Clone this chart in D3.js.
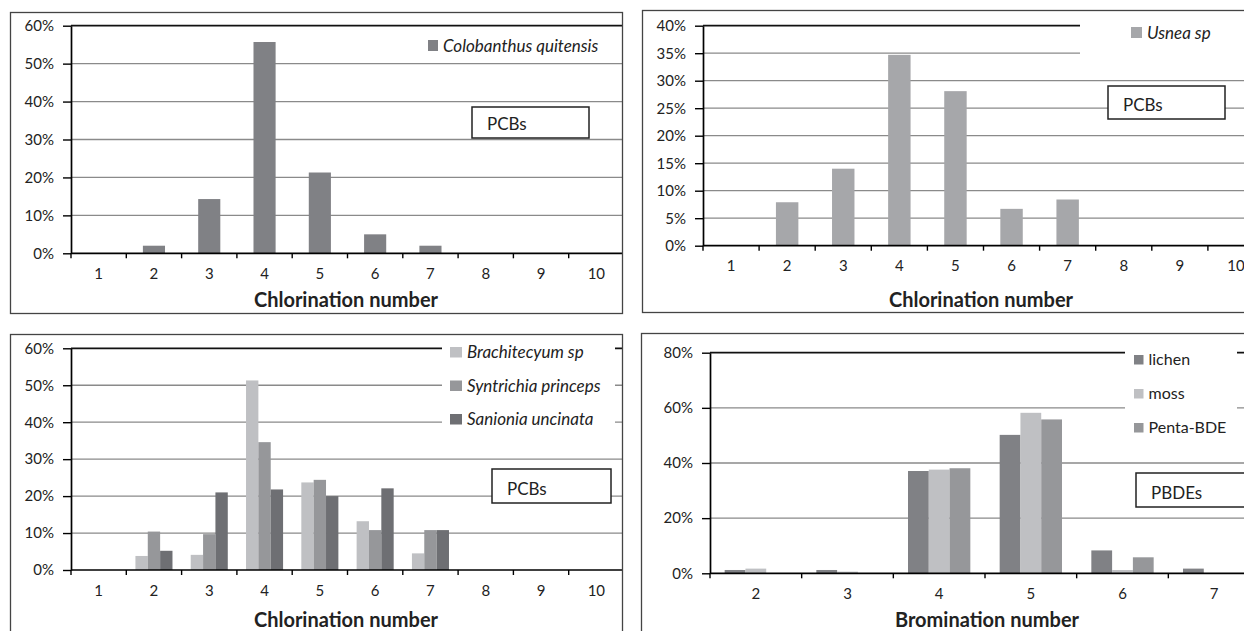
<!DOCTYPE html>
<html>
<head>
<meta charset="utf-8">
<script src="https://cdn.jsdelivr.net/npm/d3@7/dist/d3.min.js"></script>
<style>
  body { margin: 0; background: #fff; }
  svg { display: block; font-family: Lato, "Open Sans", sans-serif; }
</style>
</head>
<body>
<svg width="1244" height="631"></svg>
<script>
// chlorination / bromination categories
const chlorCats = ["1", "2", "3", "4", "5", "6", "7", "8", "9", "10"];
const bromCats = ["2", "3", "4", "5", "6", "7"];

// percentages
const colobanthus = [0, 2.0, 14.3, 55.7, 21.3, 5.0, 2.0, 0, 0, 0];
const usnea = [0, 7.9, 14.0, 34.7, 28.1, 6.7, 8.4, 0, 0, 0];
const brachitecyum = [0, 3.8, 4.1, 51.3, 23.7, 13.2, 4.5, 0, 0, 0];
const syntrichia = [0, 10.4, 9.7, 34.6, 24.4, 10.8, 10.8, 0, 0, 0];
const sanionia = [0, 5.2, 21.0, 21.8, 20.0, 22.1, 10.8, 0, 0, 0];
const lichen = [1.2, 1.2, 37.1, 50.2, 8.3, 1.7];
const moss = [1.7, 0.6, 37.6, 58.2, 1.2, 0];
const pentaBDE = [0, 0, 38.1, 55.8, 5.8, 0];

// y tick values
const ticks60 = [0, 10, 20, 30, 40, 50, 60];
const ticks40 = [0, 5, 10, 15, 20, 25, 30, 35, 40];
const ticks80 = [0, 20, 40, 60, 80];

const svg = d3.select("svg");

const drawPanel = (p, idx) => {
  const clipId = "clip" + idx;
  svg.append("clipPath").attr("id", clipId)
    .append("rect")
    .attr("x", p.frame[0]).attr("y", p.frame[1])
    .attr("width", p.frame[2] - p.frame[0]).attr("height", p.frame[3] - p.frame[1]);

  const g = svg.append("g").attr("clip-path", `url(#${clipId})`);

  const x = d3.scaleBand().domain(p.cats).range([p.x0, p.x1]);
  const ymax = p.ticks[p.ticks.length - 1];
  const y = d3.scaleLinear().domain([0, ymax]).range([p.yBot, p.yTop]);

  // gridlines
  g.selectAll(".grid")
    .data(p.ticks.filter((t) => t > 0))
    .enter()
    .append("line")
    .attr("x1", p.x0).attr("x2", p.x1 + 20)
    .attr("y1", (d) => y(d)).attr("y2", (d) => y(d))
    .attr("stroke", (d) => (d === ymax ? "#111" : "#8a8a8a"))
    .attr("stroke-width", (d) => (d === ymax ? 1.7 : 1.3));

  // bars
  const bw = x.bandwidth();
  const xs = d3.scaleBand()
    .domain(p.series.map((s) => s.name))
    .range([bw * p.gap, bw * (1 - p.gap)]);
  p.series.forEach((s) => {
    g.selectAll(null)
      .data(s.values)
      .enter()
      .append("rect")
      .attr("x", (d, i) => x(p.cats[i]) + xs(s.name))
      .attr("width", xs.bandwidth())
      .attr("y", (d) => y(d))
      .attr("height", (d) => p.yBot - y(d))
      .attr("fill", s.color);
  });

  // legend
  const L = p.legend;
  if (L.box) {
    g.append("rect")
      .attr("x", L.box[0]).attr("y", L.box[1])
      .attr("width", L.box[2]).attr("height", L.box[3])
      .attr("fill", "#fff");
  }
  p.series.forEach((s, i) => {
    g.append("rect")
      .attr("x", L.x).attr("y", L.y + i * L.step)
      .attr("width", L.sw).attr("height", L.sh)
      .attr("fill", s.color);
    g.append("text")
      .attr("x", L.x + L.sw + 5)
      .attr("y", L.y + i * L.step + L.sh + 0.5)
      .attr("font-size", L.fs)
      .attr("font-style", L.italic ? "italic" : "normal")
      .attr("fill", "#222")
      .text(s.name);
  });

  // y axis
  const yAxis = g.append("g")
    .attr("transform", `translate(${p.x0},0)`)
    .call(d3.axisLeft(y).tickValues(p.ticks).tickFormat((d) => d + "%")
      .tickSize(8).tickSizeOuter(0).tickPadding(9));
  yAxis.select(".domain").attr("stroke", "#000").attr("stroke-width", 1.7);
  yAxis.selectAll(".tick line").attr("stroke", "#000").attr("stroke-width", 1.4);
  yAxis.selectAll("text").attr("font-size", 15).attr("fill", "#222")
    .attr("font-family", "Lato, sans-serif");

  // x axis
  g.append("line")
    .attr("x1", p.x0).attr("x2", p.x1 + 20)
    .attr("y1", p.yBot).attr("y2", p.yBot)
    .attr("stroke", "#000").attr("stroke-width", 1.7);
  const bounds = p.cats.map((c) => x(c)).concat([p.x1]);
  g.selectAll(null)
    .data(bounds)
    .enter()
    .append("line")
    .attr("x1", (d) => d).attr("x2", (d) => d)
    .attr("y1", p.yBot).attr("y2", p.yBot + 5)
    .attr("stroke", "#000").attr("stroke-width", 1.4);
  const xAxis = g.append("g")
    .attr("transform", `translate(0,${p.yBot})`)
    .call(d3.axisBottom(x).tickSize(0).tickPadding(15));
  xAxis.select(".domain").remove();
  xAxis.selectAll("text").attr("font-size", 15).attr("fill", "#222")
    .attr("font-family", "Lato, sans-serif");

  // axis title
  g.append("text")
    .attr("x", p.titleX).attr("y", p.titleY)
    .attr("text-anchor", "middle")
    .attr("font-size", 20).attr("font-weight", "bold").attr("fill", "#222")
    .text(p.title);

  // compound label box
  const b = p.labelBox;
  g.append("rect")
    .attr("x", b[0]).attr("y", b[1]).attr("width", b[2]).attr("height", b[3])
    .attr("fill", "#fff").attr("stroke", "#222").attr("stroke-width", 1.5);
  g.append("text")
    .attr("x", b[0] + 15).attr("y", b[1] + b[3] - 8)
    .attr("font-size", 17).attr("fill", "#222")
    .text(p.label);

  // frame
  svg.append("rect")
    .attr("x", p.frame[0] + 0.5).attr("y", p.frame[1] + 0.5)
    .attr("width", p.frame[2] - p.frame[0] - 1).attr("height", p.frame[3] - p.frame[1] - 1)
    .attr("fill", "none").attr("stroke", "#444").attr("stroke-width", 1.3);
};

const panels = [
  {
    frame: [10, 12, 623, 314],
    x0: 71, x1: 624, yTop: 25.7, yBot: 253.3,
    cats: chlorCats, ticks: ticks60, gap: 0.3,
    series: [{ name: "Colobanthus quitensis", values: colobanthus, color: "#808185" }],
    legend: { x: 428, y: 40, sw: 10, sh: 11, step: 0, italic: true, fs: 17 },
    title: "Chlorination number", titleX: 346, titleY: 307,
    labelBox: [472, 107, 117, 31], label: "PCBs"
  },
  {
    frame: [642, 10, 1260, 313],
    x0: 703, x1: 1264, yTop: 25.7, yBot: 245.7,
    cats: chlorCats, ticks: ticks40, gap: 0.3,
    series: [{ name: "Usnea sp", values: usnea, color: "#a6a7aa" }],
    legend: { x: 1131, y: 27, sw: 11, sh: 11, step: 0, italic: true, fs: 17, box: [1080, 16, 200, 46] },
    title: "Chlorination number", titleX: 981, titleY: 307,
    labelBox: [1108, 86, 117, 33], label: "PCBs"
  },
  {
    frame: [10, 334, 623, 640],
    x0: 71, x1: 624, yTop: 348.3, yBot: 570,
    cats: chlorCats, ticks: ticks60, gap: 0.165,
    series: [
      { name: "Brachitecyum  sp", values: brachitecyum, color: "#bfc0c3" },
      { name: "Syntrichia princeps", values: syntrichia, color: "#96979a" },
      { name: "Sanionia uncinata", values: sanionia, color: "#6e6f73" }
    ],
    legend: { x: 450, y: 347, sw: 12, sh: 10.5, step: 33.5, italic: true, fs: 17, box: [442, 339, 173, 100] },
    title: "Chlorination number", titleX: 346, titleY: 627,
    labelBox: [492, 469, 119, 34], label: "PCBs"
  },
  {
    frame: [641, 333, 1260, 640],
    x0: 710, x1: 1260, yTop: 352.7, yBot: 573.3,
    cats: bromCats, ticks: ticks80, gap: 0.16,
    series: [
      { name: "lichen", values: lichen, color: "#808185" },
      { name: "moss", values: moss, color: "#bfc0c3" },
      { name: "Penta-BDE", values: pentaBDE, color: "#96979a" }
    ],
    legend: { x: 1134, y: 355, sw: 9.5, sh: 9.5, step: 34, italic: false, fs: 16, box: [1125, 345, 112, 105] },
    title: "Bromination number", titleX: 987, titleY: 627,
    labelBox: [1136, 473, 140, 34], label: "PBDEs"
  }
];

panels.forEach(drawPanel);
</script>
</body>
</html>
